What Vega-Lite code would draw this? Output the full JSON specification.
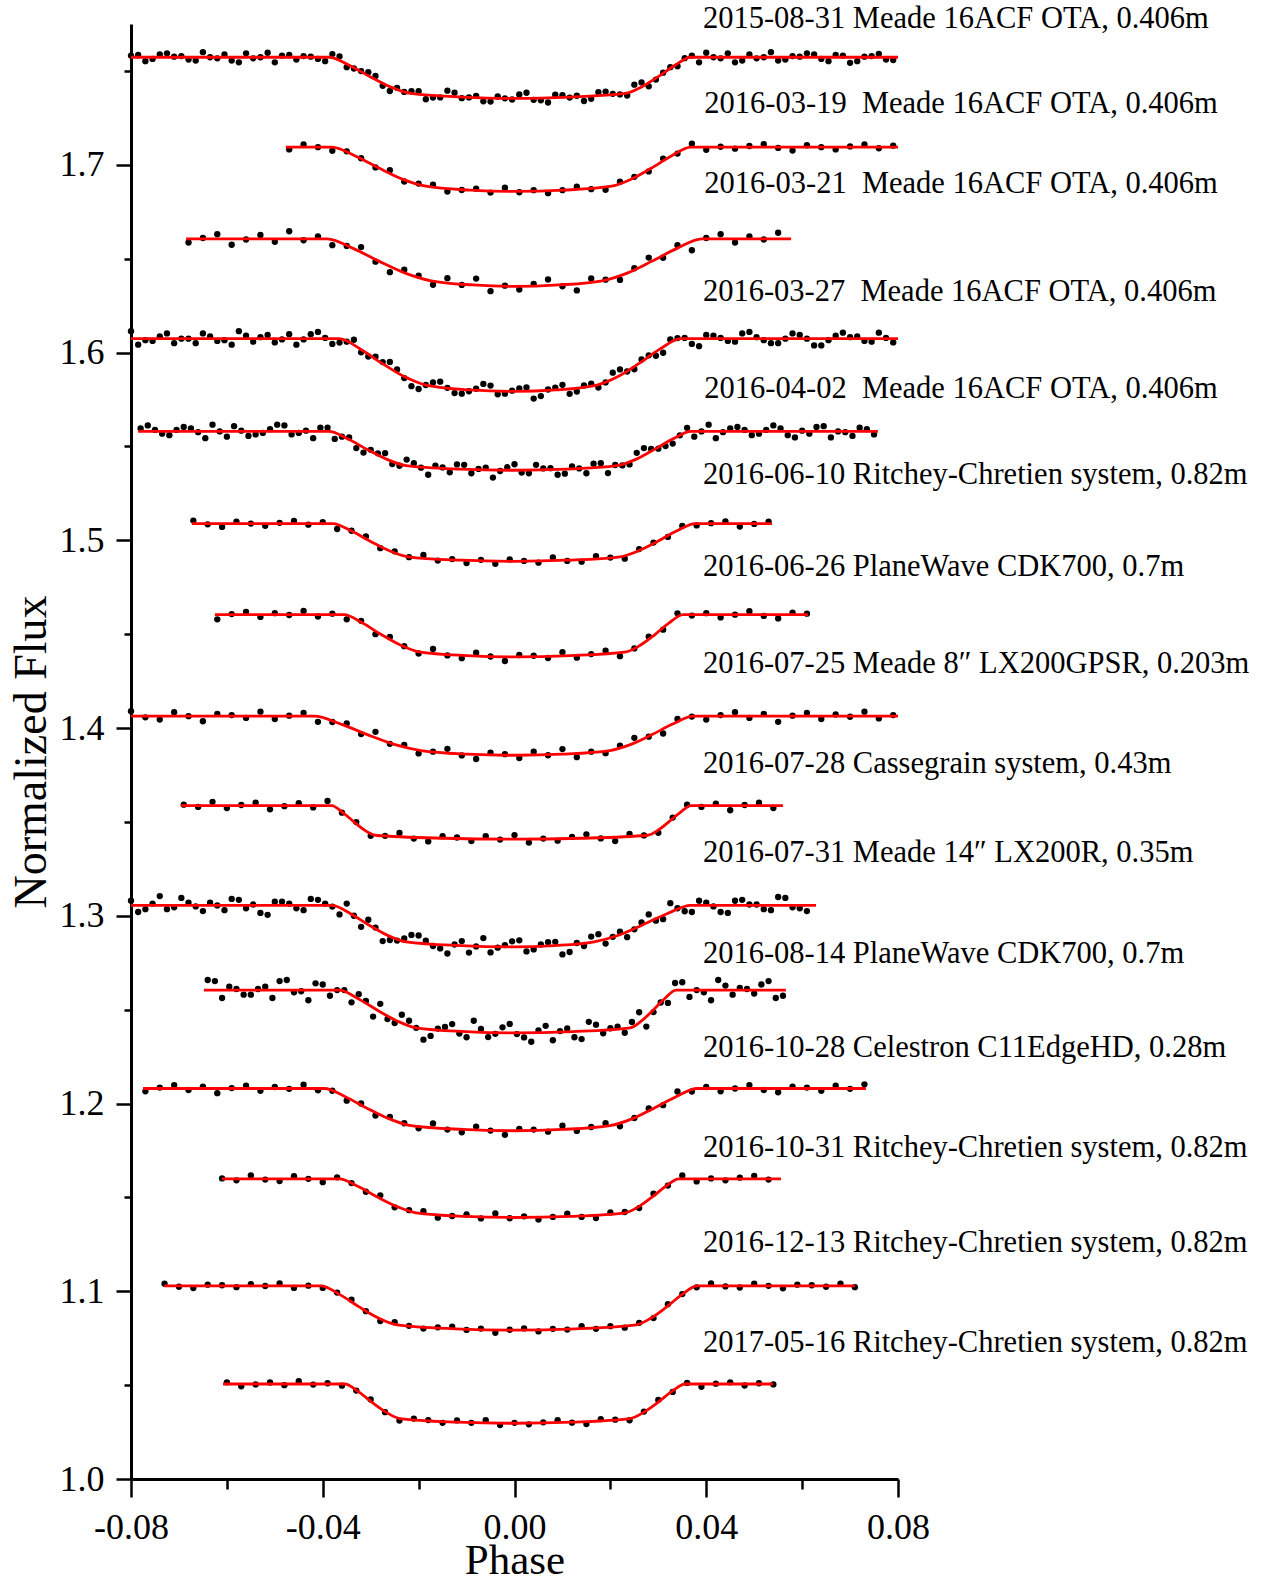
{
"$schema":"https://vega.github.io/schema/vega-lite/v6.json",
"width":767,"height":1455,
"autosize":"none",
"padding":{"left":131,"top":24,"right":368,"bottom":103},
"background":"white",
"config":{"view":{"stroke":null},
"axis":{"domainColor":"black","domainWidth":3,"tickColor":"black","tickWidth":2.5,"labelColor":"black","labelFont":"Liberation Serif","labelFontSize":36,"titleFont":"Liberation Serif","titleFontWeight":"normal","titleColor":"black","grid":false,"labelOverlap":false,"labelBound":false,"labelFlush":false}},
"datasets":{
"dots":[
{"c":1,"x":-0.080,"y":1.7582},{"c":1,"x":-0.077,"y":1.7552},{"c":1,"x":-0.074,"y":1.7588},{"c":1,"x":-0.071,"y":1.7576},{"c":1,"x":-0.068,"y":1.7561},{"c":1,"x":-0.065,"y":1.7600},{"c":1,"x":-0.062,"y":1.7567},{"c":1,"x":-0.059,"y":1.7555},{"c":1,"x":-0.056,"y":1.7594},{"c":1,"x":-0.053,"y":1.7573},{"c":1,"x":-0.050,"y":1.7546},{"c":1,"x":-0.047,"y":1.7585},{"c":1,"x":-0.044,"y":1.7579},{"c":1,"x":-0.041,"y":1.7564},{"c":1,"x":-0.038,"y":1.7590},{"c":1,"x":-0.035,"y":1.7520},{"c":1,"x":-0.032,"y":1.7499},{"c":1,"x":-0.029,"y":1.7473},{"c":1,"x":-0.026,"y":1.7393},{"c":1,"x":-0.023,"y":1.7388},{"c":1,"x":-0.020,"y":1.7392},{"c":1,"x":-0.017,"y":1.7358},{"c":1,"x":-0.014,"y":1.7395},{"c":1,"x":-0.011,"y":1.7355},{"c":1,"x":-0.008,"y":1.7367},{"c":1,"x":-0.005,"y":1.7337},{"c":1,"x":-0.002,"y":1.7354},{"c":1,"x":0.001,"y":1.7375},{"c":1,"x":0.004,"y":1.7346},{"c":1,"x":0.007,"y":1.7332},{"c":1,"x":0.010,"y":1.7371},{"c":1,"x":0.013,"y":1.7368},{"c":1,"x":0.016,"y":1.7352},{"c":1,"x":0.019,"y":1.7390},{"c":1,"x":0.022,"y":1.7375},{"c":1,"x":0.025,"y":1.7427},{"c":1,"x":0.028,"y":1.7418},{"c":1,"x":0.031,"y":1.7491},{"c":1,"x":0.034,"y":1.7525},{"c":1,"x":0.037,"y":1.7582},{"c":1,"x":0.040,"y":1.7597},{"c":1,"x":0.043,"y":1.7567},{"c":1,"x":0.046,"y":1.7546},{"c":1,"x":0.049,"y":1.7588},{"c":1,"x":0.052,"y":1.7573},{"c":1,"x":0.055,"y":1.7555},{"c":1,"x":0.058,"y":1.7579},{"c":1,"x":0.061,"y":1.7594},{"c":1,"x":0.064,"y":1.7564},{"c":1,"x":0.067,"y":1.7585},{"c":1,"x":0.070,"y":1.7543},{"c":1,"x":0.073,"y":1.7576},{"c":1,"x":0.076,"y":1.7591},{"c":1,"x":0.079,"y":1.7558},
{"c":1,"x":-0.0785,"y":1.7585},{"c":1,"x":-0.0755,"y":1.7564},{"c":1,"x":-0.0725,"y":1.7594},{"c":1,"x":-0.0695,"y":1.7579},{"c":1,"x":-0.0665,"y":1.7555},{"c":1,"x":-0.0635,"y":1.7573},{"c":1,"x":-0.0605,"y":1.7588},{"c":1,"x":-0.0575,"y":1.7546},{"c":1,"x":-0.0545,"y":1.7567},{"c":1,"x":-0.0515,"y":1.7597},{"c":1,"x":-0.0485,"y":1.7582},{"c":1,"x":-0.0455,"y":1.7561},{"c":1,"x":-0.0425,"y":1.7576},{"c":1,"x":-0.0395,"y":1.7552},{"c":1,"x":-0.0365,"y":1.7577},{"c":1,"x":-0.0335,"y":1.7513},{"c":1,"x":-0.0305,"y":1.7493},{"c":1,"x":-0.0275,"y":1.7421},{"c":1,"x":-0.0245,"y":1.7410},{"c":1,"x":-0.0215,"y":1.7392},{"c":1,"x":-0.0185,"y":1.7349},{"c":1,"x":-0.0155,"y":1.7359},{"c":1,"x":-0.0125,"y":1.7384},{"c":1,"x":-0.0095,"y":1.7359},{"c":1,"x":-0.0065,"y":1.7338},{"c":1,"x":-0.0035,"y":1.7364},{"c":1,"x":-0.0005,"y":1.7348},{"c":1,"x":0.0025,"y":1.7384},{"c":1,"x":0.0055,"y":1.7344},{"c":1,"x":0.0085,"y":1.7373},{"c":1,"x":0.0115,"y":1.7358},{"c":1,"x":0.0145,"y":1.7340},{"c":1,"x":0.0175,"y":1.7387},{"c":1,"x":0.0205,"y":1.7378},{"c":1,"x":0.0235,"y":1.7369},{"c":1,"x":0.0265,"y":1.7439},{"c":1,"x":0.0295,"y":1.7454},{"c":1,"x":0.0325,"y":1.7520},{"c":1,"x":0.0355,"y":1.7568},{"c":1,"x":0.0385,"y":1.7546},{"c":1,"x":0.0415,"y":1.7573},{"c":1,"x":0.0445,"y":1.7594},{"c":1,"x":0.0475,"y":1.7555},{"c":1,"x":0.0505,"y":1.7567},{"c":1,"x":0.0535,"y":1.7600},{"c":1,"x":0.0565,"y":1.7561},{"c":1,"x":0.0595,"y":1.7576},{"c":1,"x":0.0625,"y":1.7588},{"c":1,"x":0.0655,"y":1.7552},{"c":1,"x":0.0685,"y":1.7582},{"c":1,"x":0.0715,"y":1.7552},{"c":1,"x":0.0745,"y":1.7579},{"c":1,"x":0.0775,"y":1.7561},
{"c":2,"x":-0.047,"y":1.7082},{"c":2,"x":-0.044,"y":1.7108},{"c":2,"x":-0.041,"y":1.7094},{"c":2,"x":-0.038,"y":1.7075},{"c":2,"x":-0.035,"y":1.7072},{"c":2,"x":-0.032,"y":1.7035},{"c":2,"x":-0.029,"y":1.6986},{"c":2,"x":-0.026,"y":1.6971},{"c":2,"x":-0.023,"y":1.6911},{"c":2,"x":-0.020,"y":1.6900},{"c":2,"x":-0.017,"y":1.6894},{"c":2,"x":-0.014,"y":1.6858},{"c":2,"x":-0.011,"y":1.6866},{"c":2,"x":-0.008,"y":1.6873},{"c":2,"x":-0.005,"y":1.6852},{"c":2,"x":-0.002,"y":1.6878},{"c":2,"x":0.001,"y":1.6854},{"c":2,"x":0.004,"y":1.6865},{"c":2,"x":0.007,"y":1.6849},{"c":2,"x":0.010,"y":1.6865},{"c":2,"x":0.013,"y":1.6884},{"c":2,"x":0.016,"y":1.6870},{"c":2,"x":0.019,"y":1.6867},{"c":2,"x":0.022,"y":1.6910},{"c":2,"x":0.025,"y":1.6936},{"c":2,"x":0.028,"y":1.6965},{"c":2,"x":0.031,"y":1.7033},{"c":2,"x":0.034,"y":1.7060},{"c":2,"x":0.037,"y":1.7112},{"c":2,"x":0.040,"y":1.7080},{"c":2,"x":0.043,"y":1.7096},{"c":2,"x":0.046,"y":1.7086},{"c":2,"x":0.049,"y":1.7100},{"c":2,"x":0.052,"y":1.7110},{"c":2,"x":0.055,"y":1.7090},{"c":2,"x":0.058,"y":1.7076},{"c":2,"x":0.061,"y":1.7104},{"c":2,"x":0.064,"y":1.7094},{"c":2,"x":0.067,"y":1.7082},{"c":2,"x":0.070,"y":1.7098},{"c":2,"x":0.073,"y":1.7108},{"c":2,"x":0.076,"y":1.7088},{"c":2,"x":0.079,"y":1.7102},
{"c":3,"x":-0.068,"y":1.6586},{"c":3,"x":-0.065,"y":1.6610},{"c":3,"x":-0.062,"y":1.6630},{"c":3,"x":-0.059,"y":1.6574},{"c":3,"x":-0.056,"y":1.6602},{"c":3,"x":-0.053,"y":1.6626},{"c":3,"x":-0.050,"y":1.6590},{"c":3,"x":-0.047,"y":1.6646},{"c":3,"x":-0.044,"y":1.6598},{"c":3,"x":-0.041,"y":1.6618},{"c":3,"x":-0.038,"y":1.6572},{"c":3,"x":-0.035,"y":1.6568},{"c":3,"x":-0.032,"y":1.6562},{"c":3,"x":-0.029,"y":1.6484},{"c":3,"x":-0.026,"y":1.6428},{"c":3,"x":-0.023,"y":1.6441},{"c":3,"x":-0.020,"y":1.6410},{"c":3,"x":-0.017,"y":1.6361},{"c":3,"x":-0.014,"y":1.6396},{"c":3,"x":-0.011,"y":1.6360},{"c":3,"x":-0.008,"y":1.6394},{"c":3,"x":-0.005,"y":1.6327},{"c":3,"x":-0.002,"y":1.6356},{"c":3,"x":0.001,"y":1.6336},{"c":3,"x":0.004,"y":1.6366},{"c":3,"x":0.007,"y":1.6389},{"c":3,"x":0.010,"y":1.6353},{"c":3,"x":0.013,"y":1.6331},{"c":3,"x":0.016,"y":1.6395},{"c":3,"x":0.019,"y":1.6388},{"c":3,"x":0.022,"y":1.6387},{"c":3,"x":0.025,"y":1.6449},{"c":3,"x":0.028,"y":1.6506},{"c":3,"x":0.031,"y":1.6505},{"c":3,"x":0.034,"y":1.6572},{"c":3,"x":0.037,"y":1.6545},{"c":3,"x":0.040,"y":1.6610},{"c":3,"x":0.043,"y":1.6630},{"c":3,"x":0.046,"y":1.6586},{"c":3,"x":0.049,"y":1.6618},{"c":3,"x":0.052,"y":1.6602},{"c":3,"x":0.055,"y":1.6638},
{"c":4,"x":-0.080,"y":1.6114},{"c":4,"x":-0.077,"y":1.6066},{"c":4,"x":-0.074,"y":1.6086},{"c":4,"x":-0.071,"y":1.6050},{"c":4,"x":-0.068,"y":1.6074},{"c":4,"x":-0.065,"y":1.6102},{"c":4,"x":-0.062,"y":1.6062},{"c":4,"x":-0.059,"y":1.6042},{"c":4,"x":-0.056,"y":1.6090},{"c":4,"x":-0.053,"y":1.6082},{"c":4,"x":-0.050,"y":1.6054},{"c":4,"x":-0.047,"y":1.6098},{"c":4,"x":-0.044,"y":1.6070},{"c":4,"x":-0.041,"y":1.6110},{"c":4,"x":-0.038,"y":1.6046},{"c":4,"x":-0.035,"y":1.6058},{"c":4,"x":-0.032,"y":1.6001},{"c":4,"x":-0.029,"y":1.5978},{"c":4,"x":-0.026,"y":1.5950},{"c":4,"x":-0.023,"y":1.5864},{"c":4,"x":-0.020,"y":1.5806},{"c":4,"x":-0.017,"y":1.5841},{"c":4,"x":-0.014,"y":1.5812},{"c":4,"x":-0.011,"y":1.5781},{"c":4,"x":-0.008,"y":1.5807},{"c":4,"x":-0.005,"y":1.5824},{"c":4,"x":-0.002,"y":1.5781},{"c":4,"x":0.001,"y":1.5809},{"c":4,"x":0.004,"y":1.5755},{"c":4,"x":0.007,"y":1.5803},{"c":4,"x":0.010,"y":1.5828},{"c":4,"x":0.013,"y":1.5792},{"c":4,"x":0.016,"y":1.5834},{"c":4,"x":0.019,"y":1.5841},{"c":4,"x":0.022,"y":1.5910},{"c":4,"x":0.025,"y":1.5911},{"c":4,"x":0.028,"y":1.5985},{"c":4,"x":0.031,"y":1.5999},{"c":4,"x":0.034,"y":1.6077},{"c":4,"x":0.037,"y":1.6046},{"c":4,"x":0.040,"y":1.6094},{"c":4,"x":0.043,"y":1.6078},{"c":4,"x":0.046,"y":1.6058},{"c":4,"x":0.049,"y":1.6110},{"c":4,"x":0.052,"y":1.6066},{"c":4,"x":0.055,"y":1.6050},{"c":4,"x":0.058,"y":1.6102},{"c":4,"x":0.061,"y":1.6074},{"c":4,"x":0.064,"y":1.6038},{"c":4,"x":0.067,"y":1.6090},{"c":4,"x":0.070,"y":1.6082},{"c":4,"x":0.073,"y":1.6062},{"c":4,"x":0.076,"y":1.6106},{"c":4,"x":0.079,"y":1.6054},
{"c":4,"x":-0.0785,"y":1.6042},{"c":4,"x":-0.0755,"y":1.6062},{"c":4,"x":-0.0725,"y":1.6102},{"c":4,"x":-0.0695,"y":1.6074},{"c":4,"x":-0.0665,"y":1.6050},{"c":4,"x":-0.0635,"y":1.6086},{"c":4,"x":-0.0605,"y":1.6066},{"c":4,"x":-0.0575,"y":1.6114},{"c":4,"x":-0.0545,"y":1.6058},{"c":4,"x":-0.0515,"y":1.6094},{"c":4,"x":-0.0485,"y":1.6070},{"c":4,"x":-0.0455,"y":1.6042},{"c":4,"x":-0.0425,"y":1.6098},{"c":4,"x":-0.0395,"y":1.6078},{"c":4,"x":-0.0365,"y":1.6053},{"c":4,"x":-0.0335,"y":1.6068},{"c":4,"x":-0.0305,"y":1.5979},{"c":4,"x":-0.0275,"y":1.5949},{"c":4,"x":-0.0245,"y":1.5910},{"c":4,"x":-0.0215,"y":1.5821},{"c":4,"x":-0.0185,"y":1.5827},{"c":4,"x":-0.0155,"y":1.5845},{"c":4,"x":-0.0125,"y":1.5784},{"c":4,"x":-0.0095,"y":1.5794},{"c":4,"x":-0.0065,"y":1.5833},{"c":4,"x":-0.0035,"y":1.5778},{"c":4,"x":-0.0005,"y":1.5797},{"c":4,"x":0.0025,"y":1.5814},{"c":4,"x":0.0055,"y":1.5768},{"c":4,"x":0.0085,"y":1.5813},{"c":4,"x":0.0115,"y":1.5780},{"c":4,"x":0.0145,"y":1.5825},{"c":4,"x":0.0175,"y":1.5814},{"c":4,"x":0.0205,"y":1.5893},{"c":4,"x":0.0235,"y":1.5899},{"c":4,"x":0.0265,"y":1.5963},{"c":4,"x":0.0295,"y":1.5983},{"c":4,"x":0.0325,"y":1.6070},{"c":4,"x":0.0355,"y":1.6078},{"c":4,"x":0.0385,"y":1.6034},{"c":4,"x":0.0415,"y":1.6090},{"c":4,"x":0.0445,"y":1.6062},{"c":4,"x":0.0475,"y":1.6102},{"c":4,"x":0.0505,"y":1.6082},{"c":4,"x":0.0535,"y":1.6050},{"c":4,"x":0.0565,"y":1.6074},{"c":4,"x":0.0595,"y":1.6094},{"c":4,"x":0.0625,"y":1.6038},{"c":4,"x":0.0655,"y":1.6066},{"c":4,"x":0.0685,"y":1.6106},{"c":4,"x":0.0715,"y":1.6086},{"c":4,"x":0.0745,"y":1.6058},{"c":4,"x":0.0775,"y":1.6078},
{"c":5,"x":-0.078,"y":1.5596},{"c":5,"x":-0.075,"y":1.5588},{"c":5,"x":-0.072,"y":1.5560},{"c":5,"x":-0.069,"y":1.5604},{"c":5,"x":-0.066,"y":1.5576},{"c":5,"x":-0.063,"y":1.5616},{"c":5,"x":-0.060,"y":1.5552},{"c":5,"x":-0.057,"y":1.5584},{"c":5,"x":-0.054,"y":1.5564},{"c":5,"x":-0.051,"y":1.5592},{"c":5,"x":-0.048,"y":1.5612},{"c":5,"x":-0.045,"y":1.5572},{"c":5,"x":-0.042,"y":1.5544},{"c":5,"x":-0.039,"y":1.5600},{"c":5,"x":-0.036,"y":1.5552},{"c":5,"x":-0.033,"y":1.5491},{"c":5,"x":-0.030,"y":1.5482},{"c":5,"x":-0.027,"y":1.5464},{"c":5,"x":-0.024,"y":1.5397},{"c":5,"x":-0.021,"y":1.5411},{"c":5,"x":-0.018,"y":1.5349},{"c":5,"x":-0.015,"y":1.5388},{"c":5,"x":-0.012,"y":1.5404},{"c":5,"x":-0.009,"y":1.5357},{"c":5,"x":-0.006,"y":1.5387},{"c":5,"x":-0.003,"y":1.5369},{"c":5,"x":0.000,"y":1.5405},{"c":5,"x":0.003,"y":1.5357},{"c":5,"x":0.006,"y":1.5383},{"c":5,"x":0.009,"y":1.5349},{"c":5,"x":0.012,"y":1.5393},{"c":5,"x":0.015,"y":1.5357},{"c":5,"x":0.018,"y":1.5411},{"c":5,"x":0.021,"y":1.5401},{"c":5,"x":0.024,"y":1.5404},{"c":5,"x":0.027,"y":1.5491},{"c":5,"x":0.030,"y":1.5488},{"c":5,"x":0.033,"y":1.5515},{"c":5,"x":0.036,"y":1.5599},{"c":5,"x":0.039,"y":1.5580},{"c":5,"x":0.042,"y":1.5544},{"c":5,"x":0.045,"y":1.5596},{"c":5,"x":0.048,"y":1.5588},{"c":5,"x":0.051,"y":1.5568},{"c":5,"x":0.054,"y":1.5612},{"c":5,"x":0.057,"y":1.5560},{"c":5,"x":0.060,"y":1.5584},{"c":5,"x":0.063,"y":1.5604},{"c":5,"x":0.066,"y":1.5548},{"c":5,"x":0.069,"y":1.5576},{"c":5,"x":0.072,"y":1.5600},{"c":5,"x":0.075,"y":1.5564},
{"c":5,"x":-0.0765,"y":1.5612},{"c":5,"x":-0.0735,"y":1.5568},{"c":5,"x":-0.0705,"y":1.5588},{"c":5,"x":-0.0675,"y":1.5596},{"c":5,"x":-0.0645,"y":1.5544},{"c":5,"x":-0.0615,"y":1.5580},{"c":5,"x":-0.0585,"y":1.5608},{"c":5,"x":-0.0555,"y":1.5556},{"c":5,"x":-0.0525,"y":1.5572},{"c":5,"x":-0.0495,"y":1.5616},{"c":5,"x":-0.0465,"y":1.5564},{"c":5,"x":-0.0435,"y":1.5584},{"c":5,"x":-0.0405,"y":1.5600},{"c":5,"x":-0.0375,"y":1.5540},{"c":5,"x":-0.0345,"y":1.5548},{"c":5,"x":-0.0315,"y":1.5467},{"c":5,"x":-0.0285,"y":1.5463},{"c":5,"x":-0.0255,"y":1.5406},{"c":5,"x":-0.0225,"y":1.5430},{"c":5,"x":-0.0195,"y":1.5387},{"c":5,"x":-0.0165,"y":1.5398},{"c":5,"x":-0.0135,"y":1.5362},{"c":5,"x":-0.0105,"y":1.5402},{"c":5,"x":-0.0075,"y":1.5380},{"c":5,"x":-0.0045,"y":1.5334},{"c":5,"x":-0.0015,"y":1.5389},{"c":5,"x":0.0015,"y":1.5361},{"c":5,"x":0.0045,"y":1.5402},{"c":5,"x":0.0075,"y":1.5384},{"c":5,"x":0.0105,"y":1.5355},{"c":5,"x":0.0135,"y":1.5383},{"c":5,"x":0.0165,"y":1.5408},{"c":5,"x":0.0195,"y":1.5358},{"c":5,"x":0.0225,"y":1.5399},{"c":5,"x":0.0255,"y":1.5466},{"c":5,"x":0.0285,"y":1.5487},{"c":5,"x":0.0315,"y":1.5502},{"c":5,"x":0.0345,"y":1.5559},{"c":5,"x":0.0375,"y":1.5552},{"c":5,"x":0.0405,"y":1.5616},{"c":5,"x":0.0435,"y":1.5576},{"c":5,"x":0.0465,"y":1.5604},{"c":5,"x":0.0495,"y":1.5560},{"c":5,"x":0.0525,"y":1.5588},{"c":5,"x":0.0555,"y":1.5596},{"c":5,"x":0.0585,"y":1.5548},{"c":5,"x":0.0615,"y":1.5568},{"c":5,"x":0.0645,"y":1.5608},{"c":5,"x":0.0675,"y":1.5580},{"c":5,"x":0.0705,"y":1.5556},{"c":5,"x":0.0735,"y":1.5592},
{"c":6,"x":-0.067,"y":1.5105},{"c":6,"x":-0.064,"y":1.5085},{"c":6,"x":-0.061,"y":1.5071},{"c":6,"x":-0.058,"y":1.5099},{"c":6,"x":-0.055,"y":1.5089},{"c":6,"x":-0.052,"y":1.5077},{"c":6,"x":-0.049,"y":1.5093},{"c":6,"x":-0.046,"y":1.5103},{"c":6,"x":-0.043,"y":1.5083},{"c":6,"x":-0.040,"y":1.5097},{"c":6,"x":-0.037,"y":1.5060},{"c":6,"x":-0.034,"y":1.5051},{"c":6,"x":-0.031,"y":1.5020},{"c":6,"x":-0.028,"y":1.4958},{"c":6,"x":-0.025,"y":1.4941},{"c":6,"x":-0.022,"y":1.4910},{"c":6,"x":-0.019,"y":1.4922},{"c":6,"x":-0.016,"y":1.4892},{"c":6,"x":-0.013,"y":1.4900},{"c":6,"x":-0.010,"y":1.4879},{"c":6,"x":-0.007,"y":1.4896},{"c":6,"x":-0.004,"y":1.4875},{"c":6,"x":-0.001,"y":1.4898},{"c":6,"x":0.002,"y":1.4890},{"c":6,"x":0.005,"y":1.4881},{"c":6,"x":0.008,"y":1.4909},{"c":6,"x":0.011,"y":1.4890},{"c":6,"x":0.014,"y":1.4886},{"c":6,"x":0.017,"y":1.4916},{"c":6,"x":0.020,"y":1.4908},{"c":6,"x":0.023,"y":1.4902},{"c":6,"x":0.026,"y":1.4953},{"c":6,"x":0.029,"y":1.4988},{"c":6,"x":0.032,"y":1.5018},{"c":6,"x":0.035,"y":1.5077},{"c":6,"x":0.038,"y":1.5079},{"c":6,"x":0.041,"y":1.5091},{"c":6,"x":0.044,"y":1.5101},{"c":6,"x":0.047,"y":1.5073},{"c":6,"x":0.050,"y":1.5087},{"c":6,"x":0.053,"y":1.5099},
{"c":7,"x":-0.062,"y":1.4579},{"c":7,"x":-0.059,"y":1.4607},{"c":7,"x":-0.056,"y":1.4619},{"c":7,"x":-0.053,"y":1.4592},{"c":7,"x":-0.050,"y":1.4612},{"c":7,"x":-0.047,"y":1.4602},{"c":7,"x":-0.044,"y":1.4624},{"c":7,"x":-0.041,"y":1.4594},{"c":7,"x":-0.038,"y":1.4609},{"c":7,"x":-0.035,"y":1.4579},{"c":7,"x":-0.032,"y":1.4571},{"c":7,"x":-0.029,"y":1.4500},{"c":7,"x":-0.026,"y":1.4485},{"c":7,"x":-0.023,"y":1.4436},{"c":7,"x":-0.020,"y":1.4397},{"c":7,"x":-0.017,"y":1.4421},{"c":7,"x":-0.014,"y":1.4387},{"c":7,"x":-0.011,"y":1.4372},{"c":7,"x":-0.008,"y":1.4401},{"c":7,"x":-0.005,"y":1.4381},{"c":7,"x":-0.002,"y":1.4357},{"c":7,"x":0.001,"y":1.4389},{"c":7,"x":0.004,"y":1.4385},{"c":7,"x":0.007,"y":1.4373},{"c":7,"x":0.010,"y":1.4404},{"c":7,"x":0.013,"y":1.4375},{"c":7,"x":0.016,"y":1.4394},{"c":7,"x":0.019,"y":1.4412},{"c":7,"x":0.022,"y":1.4383},{"c":7,"x":0.025,"y":1.4424},{"c":7,"x":0.028,"y":1.4487},{"c":7,"x":0.031,"y":1.4524},{"c":7,"x":0.034,"y":1.4611},{"c":7,"x":0.037,"y":1.4599},{"c":7,"x":0.040,"y":1.4612},{"c":7,"x":0.043,"y":1.4589},{"c":7,"x":0.046,"y":1.4604},{"c":7,"x":0.049,"y":1.4622},{"c":7,"x":0.052,"y":1.4597},{"c":7,"x":0.055,"y":1.4584},{"c":7,"x":0.058,"y":1.4614},{"c":7,"x":0.061,"y":1.4609},
{"c":8,"x":-0.080,"y":1.4090},{"c":8,"x":-0.077,"y":1.4057},{"c":8,"x":-0.074,"y":1.4045},{"c":8,"x":-0.071,"y":1.4084},{"c":8,"x":-0.068,"y":1.4063},{"c":8,"x":-0.065,"y":1.4036},{"c":8,"x":-0.062,"y":1.4075},{"c":8,"x":-0.059,"y":1.4069},{"c":8,"x":-0.056,"y":1.4054},{"c":8,"x":-0.053,"y":1.4087},{"c":8,"x":-0.050,"y":1.4048},{"c":8,"x":-0.047,"y":1.4066},{"c":8,"x":-0.044,"y":1.4081},{"c":8,"x":-0.041,"y":1.4033},{"c":8,"x":-0.038,"y":1.4032},{"c":8,"x":-0.035,"y":1.4024},{"c":8,"x":-0.032,"y":1.3968},{"c":8,"x":-0.029,"y":1.3980},{"c":8,"x":-0.026,"y":1.3916},{"c":8,"x":-0.023,"y":1.3910},{"c":8,"x":-0.020,"y":1.3865},{"c":8,"x":-0.017,"y":1.3874},{"c":8,"x":-0.014,"y":1.3889},{"c":8,"x":-0.011,"y":1.3854},{"c":8,"x":-0.008,"y":1.3835},{"c":8,"x":-0.005,"y":1.3869},{"c":8,"x":-0.002,"y":1.3861},{"c":8,"x":0.001,"y":1.3840},{"c":8,"x":0.004,"y":1.3874},{"c":8,"x":0.007,"y":1.3855},{"c":8,"x":0.010,"y":1.3888},{"c":8,"x":0.013,"y":1.3845},{"c":8,"x":0.016,"y":1.3874},{"c":8,"x":0.019,"y":1.3866},{"c":8,"x":0.022,"y":1.3906},{"c":8,"x":0.025,"y":1.3948},{"c":8,"x":0.028,"y":1.3954},{"c":8,"x":0.031,"y":1.3971},{"c":8,"x":0.034,"y":1.4048},{"c":8,"x":0.037,"y":1.4061},{"c":8,"x":0.040,"y":1.4045},{"c":8,"x":0.043,"y":1.4069},{"c":8,"x":0.046,"y":1.4084},{"c":8,"x":0.049,"y":1.4054},{"c":8,"x":0.052,"y":1.4075},{"c":8,"x":0.055,"y":1.4033},{"c":8,"x":0.058,"y":1.4066},{"c":8,"x":0.061,"y":1.4081},{"c":8,"x":0.064,"y":1.4048},{"c":8,"x":0.067,"y":1.4072},{"c":8,"x":0.070,"y":1.4060},{"c":8,"x":0.073,"y":1.4087},{"c":8,"x":0.076,"y":1.4051},{"c":8,"x":0.079,"y":1.4069},
{"c":9,"x":-0.069,"y":1.3592},{"c":9,"x":-0.066,"y":1.3580},{"c":9,"x":-0.063,"y":1.3607},{"c":9,"x":-0.060,"y":1.3574},{"c":9,"x":-0.057,"y":1.3590},{"c":9,"x":-0.054,"y":1.3602},{"c":9,"x":-0.051,"y":1.3567},{"c":9,"x":-0.048,"y":1.3584},{"c":9,"x":-0.045,"y":1.3600},{"c":9,"x":-0.042,"y":1.3577},{"c":9,"x":-0.039,"y":1.3612},{"c":9,"x":-0.036,"y":1.3549},{"c":9,"x":-0.033,"y":1.3499},{"c":9,"x":-0.030,"y":1.3426},{"c":9,"x":-0.027,"y":1.3426},{"c":9,"x":-0.024,"y":1.3441},{"c":9,"x":-0.021,"y":1.3411},{"c":9,"x":-0.018,"y":1.3396},{"c":9,"x":-0.015,"y":1.3424},{"c":9,"x":-0.012,"y":1.3417},{"c":9,"x":-0.009,"y":1.3398},{"c":9,"x":-0.006,"y":1.3424},{"c":9,"x":-0.003,"y":1.3406},{"c":9,"x":0.000,"y":1.3430},{"c":9,"x":0.003,"y":1.3390},{"c":9,"x":0.006,"y":1.3411},{"c":9,"x":0.009,"y":1.3400},{"c":9,"x":0.012,"y":1.3420},{"c":9,"x":0.015,"y":1.3434},{"c":9,"x":0.018,"y":1.3412},{"c":9,"x":0.021,"y":1.3398},{"c":9,"x":0.024,"y":1.3436},{"c":9,"x":0.027,"y":1.3428},{"c":9,"x":0.030,"y":1.3442},{"c":9,"x":0.033,"y":1.3523},{"c":9,"x":0.036,"y":1.3592},{"c":9,"x":0.039,"y":1.3580},{"c":9,"x":0.042,"y":1.3597},{"c":9,"x":0.045,"y":1.3562},{"c":9,"x":0.048,"y":1.3590},{"c":9,"x":0.051,"y":1.3602},{"c":9,"x":0.054,"y":1.3574},
{"c":10,"x":-0.080,"y":1.3080},{"c":10,"x":-0.077,"y":1.3035},{"c":10,"x":-0.074,"y":1.3105},{"c":10,"x":-0.071,"y":1.3045},{"c":10,"x":-0.068,"y":1.3070},{"c":10,"x":-0.065,"y":1.3025},{"c":10,"x":-0.062,"y":1.3055},{"c":10,"x":-0.059,"y":1.3090},{"c":10,"x":-0.056,"y":1.3040},{"c":10,"x":-0.053,"y":1.3015},{"c":10,"x":-0.050,"y":1.3075},{"c":10,"x":-0.047,"y":1.3065},{"c":10,"x":-0.044,"y":1.3030},{"c":10,"x":-0.041,"y":1.3085},{"c":10,"x":-0.038,"y":1.3049},{"c":10,"x":-0.035,"y":1.3065},{"c":10,"x":-0.032,"y":1.2941},{"c":10,"x":-0.029,"y":1.2937},{"c":10,"x":-0.026,"y":1.2871},{"c":10,"x":-0.023,"y":1.2879},{"c":10,"x":-0.020,"y":1.2895},{"c":10,"x":-0.017,"y":1.2839},{"c":10,"x":-0.014,"y":1.2799},{"c":10,"x":-0.011,"y":1.2865},{"c":10,"x":-0.008,"y":1.2837},{"c":10,"x":-0.005,"y":1.2805},{"c":10,"x":-0.002,"y":1.2844},{"c":10,"x":0.001,"y":1.2869},{"c":10,"x":0.004,"y":1.2821},{"c":10,"x":0.007,"y":1.2859},{"c":10,"x":0.010,"y":1.2794},{"c":10,"x":0.013,"y":1.2855},{"c":10,"x":0.016,"y":1.2889},{"c":10,"x":0.019,"y":1.2852},{"c":10,"x":0.022,"y":1.2915},{"c":10,"x":0.025,"y":1.2928},{"c":10,"x":0.028,"y":1.3007},{"c":10,"x":0.031,"y":1.2982},{"c":10,"x":0.034,"y":1.3040},{"c":10,"x":0.037,"y":1.3020},{"c":10,"x":0.040,"y":1.3070},{"c":10,"x":0.043,"y":1.3020},{"c":10,"x":0.046,"y":1.3080},{"c":10,"x":0.049,"y":1.3060},{"c":10,"x":0.052,"y":1.3035},{"c":10,"x":0.055,"y":1.3100},{"c":10,"x":0.058,"y":1.3045},{"c":10,"x":0.061,"y":1.3025},
{"c":10,"x":-0.0785,"y":1.3020},{"c":10,"x":-0.0755,"y":1.3065},{"c":10,"x":-0.0725,"y":1.3035},{"c":10,"x":-0.0695,"y":1.3095},{"c":10,"x":-0.0665,"y":1.3050},{"c":10,"x":-0.0635,"y":1.3070},{"c":10,"x":-0.0605,"y":1.3030},{"c":10,"x":-0.0575,"y":1.3085},{"c":10,"x":-0.0545,"y":1.3060},{"c":10,"x":-0.0515,"y":1.3005},{"c":10,"x":-0.0485,"y":1.3075},{"c":10,"x":-0.0455,"y":1.3040},{"c":10,"x":-0.0425,"y":1.3090},{"c":10,"x":-0.0395,"y":1.3065},{"c":10,"x":-0.0365,"y":1.3007},{"c":10,"x":-0.0335,"y":1.3000},{"c":10,"x":-0.0305,"y":1.2979},{"c":10,"x":-0.0275,"y":1.2865},{"c":10,"x":-0.0245,"y":1.2868},{"c":10,"x":-0.0215,"y":1.2898},{"c":10,"x":-0.0185,"y":1.2867},{"c":10,"x":-0.0155,"y":1.2826},{"c":10,"x":-0.0125,"y":1.2847},{"c":10,"x":-0.0095,"y":1.2804},{"c":10,"x":-0.0065,"y":1.2881},{"c":10,"x":-0.0035,"y":1.2830},{"c":10,"x":-0.0005,"y":1.2864},{"c":10,"x":0.0025,"y":1.2810},{"c":10,"x":0.0055,"y":1.2847},{"c":10,"x":0.0085,"y":1.2861},{"c":10,"x":0.0115,"y":1.2807},{"c":10,"x":0.0145,"y":1.2839},{"c":10,"x":0.0175,"y":1.2902},{"c":10,"x":0.0205,"y":1.2888},{"c":10,"x":0.0235,"y":1.2886},{"c":10,"x":0.0265,"y":1.2964},{"c":10,"x":0.0295,"y":1.2974},{"c":10,"x":0.0325,"y":1.3067},{"c":10,"x":0.0355,"y":1.3024},{"c":10,"x":0.0385,"y":1.3080},{"c":10,"x":0.0415,"y":1.3050},{"c":10,"x":0.0445,"y":1.3015},{"c":10,"x":0.0475,"y":1.3085},{"c":10,"x":0.0505,"y":1.3060},{"c":10,"x":0.0535,"y":1.3030},{"c":10,"x":0.0565,"y":1.3095},{"c":10,"x":0.0595,"y":1.3040},
{"c":11,"x":-0.064,"y":1.2658},{"c":11,"x":-0.061,"y":1.2562},{"c":11,"x":-0.058,"y":1.2610},{"c":11,"x":-0.055,"y":1.2580},{"c":11,"x":-0.052,"y":1.2622},{"c":11,"x":-0.049,"y":1.2652},{"c":11,"x":-0.046,"y":1.2592},{"c":11,"x":-0.043,"y":1.2550},{"c":11,"x":-0.040,"y":1.2634},{"c":11,"x":-0.037,"y":1.2604},{"c":11,"x":-0.034,"y":1.2539},{"c":11,"x":-0.031,"y":1.2546},{"c":11,"x":-0.028,"y":1.2531},{"c":11,"x":-0.025,"y":1.2429},{"c":11,"x":-0.022,"y":1.2441},{"c":11,"x":-0.019,"y":1.2340},{"c":11,"x":-0.016,"y":1.2399},{"c":11,"x":-0.013,"y":1.2423},{"c":11,"x":-0.010,"y":1.2353},{"c":11,"x":-0.007,"y":1.2397},{"c":11,"x":-0.004,"y":1.2371},{"c":11,"x":-0.001,"y":1.2424},{"c":11,"x":0.002,"y":1.2352},{"c":11,"x":0.005,"y":1.2389},{"c":11,"x":0.008,"y":1.2337},{"c":11,"x":0.011,"y":1.2400},{"c":11,"x":0.014,"y":1.2343},{"c":11,"x":0.017,"y":1.2420},{"c":11,"x":0.020,"y":1.2401},{"c":11,"x":0.023,"y":1.2377},{"c":11,"x":0.026,"y":1.2486},{"c":11,"x":0.029,"y":1.2487},{"c":11,"x":0.032,"y":1.2536},{"c":11,"x":0.035,"y":1.2646},{"c":11,"x":0.038,"y":1.2604},{"c":11,"x":0.041,"y":1.2550},{"c":11,"x":0.044,"y":1.2628},{"c":11,"x":0.047,"y":1.2616},{"c":11,"x":0.050,"y":1.2586},{"c":11,"x":0.053,"y":1.2652},{"c":11,"x":0.056,"y":1.2574},
{"c":11,"x":-0.0625,"y":1.2652},{"c":11,"x":-0.0595,"y":1.2622},{"c":11,"x":-0.0565,"y":1.2580},{"c":11,"x":-0.0535,"y":1.2610},{"c":11,"x":-0.0505,"y":1.2562},{"c":11,"x":-0.0475,"y":1.2658},{"c":11,"x":-0.0445,"y":1.2598},{"c":11,"x":-0.0415,"y":1.2640},{"c":11,"x":-0.0385,"y":1.2574},{"c":11,"x":-0.0355,"y":1.2604},{"c":11,"x":-0.0325,"y":1.2582},{"c":11,"x":-0.0295,"y":1.2463},{"c":11,"x":-0.0265,"y":1.2450},{"c":11,"x":-0.0235,"y":1.2473},{"c":11,"x":-0.0205,"y":1.2403},{"c":11,"x":-0.0175,"y":1.2360},{"c":11,"x":-0.0145,"y":1.2408},{"c":11,"x":-0.0115,"y":1.2373},{"c":11,"x":-0.0085,"y":1.2441},{"c":11,"x":-0.0055,"y":1.2354},{"c":11,"x":-0.0025,"y":1.2406},{"c":11,"x":0.0005,"y":1.2370},{"c":11,"x":0.0035,"y":1.2329},{"c":11,"x":0.0065,"y":1.2414},{"c":11,"x":0.0095,"y":1.2386},{"c":11,"x":0.0125,"y":1.2353},{"c":11,"x":0.0155,"y":1.2435},{"c":11,"x":0.0185,"y":1.2374},{"c":11,"x":0.0215,"y":1.2410},{"c":11,"x":0.0245,"y":1.2434},{"c":11,"x":0.0275,"y":1.2410},{"c":11,"x":0.0305,"y":1.2538},{"c":11,"x":0.0335,"y":1.2642},{"c":11,"x":0.0365,"y":1.2568},{"c":11,"x":0.0395,"y":1.2592},{"c":11,"x":0.0425,"y":1.2658},{"c":11,"x":0.0455,"y":1.2580},{"c":11,"x":0.0485,"y":1.2610},{"c":11,"x":0.0515,"y":1.2634},{"c":11,"x":0.0545,"y":1.2562},
{"c":12,"x":-0.077,"y":1.2065},{"c":12,"x":-0.074,"y":1.2085},{"c":12,"x":-0.071,"y":1.2098},{"c":12,"x":-0.068,"y":1.2072},{"c":12,"x":-0.065,"y":1.2090},{"c":12,"x":-0.062,"y":1.2055},{"c":12,"x":-0.059,"y":1.2082},{"c":12,"x":-0.056,"y":1.2095},{"c":12,"x":-0.053,"y":1.2068},{"c":12,"x":-0.050,"y":1.2088},{"c":12,"x":-0.047,"y":1.2078},{"c":12,"x":-0.044,"y":1.2100},{"c":12,"x":-0.041,"y":1.2070},{"c":12,"x":-0.038,"y":1.2068},{"c":12,"x":-0.035,"y":1.2015},{"c":12,"x":-0.032,"y":1.2000},{"c":12,"x":-0.029,"y":1.1936},{"c":12,"x":-0.026,"y":1.1929},{"c":12,"x":-0.023,"y":1.1895},{"c":12,"x":-0.020,"y":1.1868},{"c":12,"x":-0.017,"y":1.1894},{"c":12,"x":-0.014,"y":1.1861},{"c":12,"x":-0.011,"y":1.1847},{"c":12,"x":-0.008,"y":1.1877},{"c":12,"x":-0.005,"y":1.1856},{"c":12,"x":-0.002,"y":1.1833},{"c":12,"x":0.001,"y":1.1865},{"c":12,"x":0.004,"y":1.1861},{"c":12,"x":0.007,"y":1.1850},{"c":12,"x":0.010,"y":1.1882},{"c":12,"x":0.013,"y":1.1854},{"c":12,"x":0.016,"y":1.1875},{"c":12,"x":0.019,"y":1.1895},{"c":12,"x":0.022,"y":1.1879},{"c":12,"x":0.025,"y":1.1923},{"c":12,"x":0.028,"y":1.1974},{"c":12,"x":0.031,"y":1.1991},{"c":12,"x":0.034,"y":1.2064},{"c":12,"x":0.037,"y":1.2064},{"c":12,"x":0.040,"y":1.2088},{"c":12,"x":0.043,"y":1.2065},{"c":12,"x":0.046,"y":1.2080},{"c":12,"x":0.049,"y":1.2098},{"c":12,"x":0.052,"y":1.2072},{"c":12,"x":0.055,"y":1.2060},{"c":12,"x":0.058,"y":1.2090},{"c":12,"x":0.061,"y":1.2085},{"c":12,"x":0.064,"y":1.2068},{"c":12,"x":0.067,"y":1.2095},{"c":12,"x":0.070,"y":1.2078},{"c":12,"x":0.073,"y":1.2102},
{"c":13,"x":-0.061,"y":1.1601},{"c":13,"x":-0.058,"y":1.1591},{"c":13,"x":-0.055,"y":1.1617},{"c":13,"x":-0.052,"y":1.1595},{"c":13,"x":-0.049,"y":1.1587},{"c":13,"x":-0.046,"y":1.1613},{"c":13,"x":-0.043,"y":1.1599},{"c":13,"x":-0.040,"y":1.1581},{"c":13,"x":-0.037,"y":1.1607},{"c":13,"x":-0.034,"y":1.1576},{"c":13,"x":-0.031,"y":1.1530},{"c":13,"x":-0.028,"y":1.1511},{"c":13,"x":-0.025,"y":1.1447},{"c":13,"x":-0.022,"y":1.1432},{"c":13,"x":-0.019,"y":1.1426},{"c":13,"x":-0.016,"y":1.1392},{"c":13,"x":-0.013,"y":1.1401},{"c":13,"x":-0.010,"y":1.1409},{"c":13,"x":-0.007,"y":1.1388},{"c":13,"x":-0.004,"y":1.1414},{"c":13,"x":-0.001,"y":1.1389},{"c":13,"x":0.002,"y":1.1399},{"c":13,"x":0.005,"y":1.1382},{"c":13,"x":0.008,"y":1.1396},{"c":13,"x":0.011,"y":1.1413},{"c":13,"x":0.014,"y":1.1396},{"c":13,"x":0.017,"y":1.1390},{"c":13,"x":0.020,"y":1.1420},{"c":13,"x":0.023,"y":1.1422},{"c":13,"x":0.026,"y":1.1443},{"c":13,"x":0.029,"y":1.1520},{"c":13,"x":0.032,"y":1.1563},{"c":13,"x":0.035,"y":1.1617},{"c":13,"x":0.038,"y":1.1585},{"c":13,"x":0.041,"y":1.1601},{"c":13,"x":0.044,"y":1.1591},{"c":13,"x":0.047,"y":1.1605},{"c":13,"x":0.050,"y":1.1615},{"c":13,"x":0.053,"y":1.1595},
{"c":14,"x":-0.073,"y":1.1040},{"c":14,"x":-0.070,"y":1.1024},{"c":14,"x":-0.067,"y":1.1017},{"c":14,"x":-0.064,"y":1.1035},{"c":14,"x":-0.061,"y":1.1032},{"c":14,"x":-0.058,"y":1.1022},{"c":14,"x":-0.055,"y":1.1038},{"c":14,"x":-0.052,"y":1.1028},{"c":14,"x":-0.049,"y":1.1042},{"c":14,"x":-0.046,"y":1.1018},{"c":14,"x":-0.043,"y":1.1030},{"c":14,"x":-0.040,"y":1.1018},{"c":14,"x":-0.037,"y":1.0993},{"c":14,"x":-0.034,"y":1.0955},{"c":14,"x":-0.031,"y":1.0894},{"c":14,"x":-0.028,"y":1.0841},{"c":14,"x":-0.025,"y":1.0835},{"c":14,"x":-0.022,"y":1.0816},{"c":14,"x":-0.019,"y":1.0801},{"c":14,"x":-0.016,"y":1.0808},{"c":14,"x":-0.013,"y":1.0811},{"c":14,"x":-0.010,"y":1.0794},{"c":14,"x":-0.007,"y":1.0801},{"c":14,"x":-0.004,"y":1.0779},{"c":14,"x":-0.001,"y":1.0795},{"c":14,"x":0.002,"y":1.0802},{"c":14,"x":0.005,"y":1.0786},{"c":14,"x":0.008,"y":1.0800},{"c":14,"x":0.011,"y":1.0796},{"c":14,"x":0.014,"y":1.0814},{"c":14,"x":0.017,"y":1.0800},{"c":14,"x":0.020,"y":1.0814},{"c":14,"x":0.023,"y":1.0806},{"c":14,"x":0.026,"y":1.0832},{"c":14,"x":0.029,"y":1.0857},{"c":14,"x":0.032,"y":1.0931},{"c":14,"x":0.035,"y":1.0985},{"c":14,"x":0.038,"y":1.1021},{"c":14,"x":0.041,"y":1.1042},{"c":14,"x":0.044,"y":1.1026},{"c":14,"x":0.047,"y":1.1020},{"c":14,"x":0.050,"y":1.1040},{"c":14,"x":0.053,"y":1.1029},{"c":14,"x":0.056,"y":1.1016},{"c":14,"x":0.059,"y":1.1035},{"c":14,"x":0.062,"y":1.1032},{"c":14,"x":0.065,"y":1.1024},{"c":14,"x":0.068,"y":1.1041},{"c":14,"x":0.071,"y":1.1022},
{"c":15,"x":-0.060,"y":1.0515},{"c":15,"x":-0.057,"y":1.0494},{"c":15,"x":-0.054,"y":1.0504},{"c":15,"x":-0.051,"y":1.0514},{"c":15,"x":-0.048,"y":1.0500},{"c":15,"x":-0.045,"y":1.0521},{"c":15,"x":-0.042,"y":1.0503},{"c":15,"x":-0.039,"y":1.0510},{"c":15,"x":-0.036,"y":1.0497},{"c":15,"x":-0.033,"y":1.0471},{"c":15,"x":-0.030,"y":1.0424},{"c":15,"x":-0.027,"y":1.0356},{"c":15,"x":-0.024,"y":1.0311},{"c":15,"x":-0.021,"y":1.0322},{"c":15,"x":-0.018,"y":1.0314},{"c":15,"x":-0.015,"y":1.0299},{"c":15,"x":-0.012,"y":1.0312},{"c":15,"x":-0.009,"y":1.0299},{"c":15,"x":-0.006,"y":1.0313},{"c":15,"x":-0.003,"y":1.0287},{"c":15,"x":0.000,"y":1.0299},{"c":15,"x":0.003,"y":1.0291},{"c":15,"x":0.006,"y":1.0302},{"c":15,"x":0.009,"y":1.0313},{"c":15,"x":0.012,"y":1.0300},{"c":15,"x":0.015,"y":1.0293},{"c":15,"x":0.018,"y":1.0319},{"c":15,"x":0.021,"y":1.0316},{"c":15,"x":0.024,"y":1.0313},{"c":15,"x":0.027,"y":1.0359},{"c":15,"x":0.030,"y":1.0421},{"c":15,"x":0.033,"y":1.0464},{"c":15,"x":0.036,"y":1.0512},{"c":15,"x":0.039,"y":1.0491},{"c":15,"x":0.042,"y":1.0508},{"c":15,"x":0.045,"y":1.0515},{"c":15,"x":0.048,"y":1.0498},{"c":15,"x":0.051,"y":1.0510},{"c":15,"x":0.054,"y":1.0504}
],
"model":[
{"c":1,"x":-0.08,"y":1.7573},{"c":1,"x":-0.0387,"y":1.7573},{"c":1,"x":-0.0344,"y":1.7529},{"c":1,"x":-0.0302,"y":1.7470},{"c":1,"x":-0.0259,"y":1.7415},{"c":1,"x":-0.0216,"y":1.7380},{"c":1,"x":-0.0108,"y":1.7361},{"c":1,"x":0,"y":1.7354},{"c":1,"x":0.0116,"y":1.7361},{"c":1,"x":0.0231,"y":1.7380},{"c":1,"x":0.0265,"y":1.7415},{"c":1,"x":0.0300,"y":1.7470},{"c":1,"x":0.0334,"y":1.7529},{"c":1,"x":0.0368,"y":1.7573},{"c":1,"x":0.08,"y":1.7573},
{"c":2,"x":-0.0477,"y":1.7094},{"c":2,"x":-0.0381,"y":1.7094},{"c":2,"x":-0.0332,"y":1.7047},{"c":2,"x":-0.0283,"y":1.6983},{"c":2,"x":-0.0234,"y":1.6924},{"c":2,"x":-0.0185,"y":1.6886},{"c":2,"x":-0.0093,"y":1.6865},{"c":2,"x":0,"y":1.6858},{"c":2,"x":0.0102,"y":1.6865},{"c":2,"x":0.0203,"y":1.6886},{"c":2,"x":0.0244,"y":1.6924},{"c":2,"x":0.0286,"y":1.6983},{"c":2,"x":0.0327,"y":1.7047},{"c":2,"x":0.0368,"y":1.7094},{"c":2,"x":0.08,"y":1.7094},
{"c":3,"x":-0.0685,"y":1.6606},{"c":3,"x":-0.0391,"y":1.6606},{"c":3,"x":-0.0337,"y":1.6555},{"c":3,"x":-0.0283,"y":1.6487},{"c":3,"x":-0.0228,"y":1.6423},{"c":3,"x":-0.0174,"y":1.6382},{"c":3,"x":-0.0087,"y":1.6360},{"c":3,"x":0,"y":1.6352},{"c":3,"x":0.0092,"y":1.6360},{"c":3,"x":0.0183,"y":1.6382},{"c":3,"x":0.0235,"y":1.6423},{"c":3,"x":0.0287,"y":1.6487},{"c":3,"x":0.0339,"y":1.6555},{"c":3,"x":0.0391,"y":1.6606},{"c":3,"x":0.0577,"y":1.6606},
{"c":4,"x":-0.08,"y":1.6074},{"c":4,"x":-0.0366,"y":1.6074},{"c":4,"x":-0.0321,"y":1.6018},{"c":4,"x":-0.0276,"y":1.5942},{"c":4,"x":-0.0230,"y":1.5872},{"c":4,"x":-0.0185,"y":1.5827},{"c":4,"x":-0.0093,"y":1.5801},{"c":4,"x":0,"y":1.5793},{"c":4,"x":0.0086,"y":1.5801},{"c":4,"x":0.0172,"y":1.5827},{"c":4,"x":0.0216,"y":1.5872},{"c":4,"x":0.0260,"y":1.5942},{"c":4,"x":0.0303,"y":1.6018},{"c":4,"x":0.0347,"y":1.6074},{"c":4,"x":0.08,"y":1.6074},
{"c":5,"x":-0.0785,"y":1.5580},{"c":5,"x":-0.0387,"y":1.5580},{"c":5,"x":-0.0347,"y":1.5539},{"c":5,"x":-0.0307,"y":1.5483},{"c":5,"x":-0.0266,"y":1.5431},{"c":5,"x":-0.0226,"y":1.5398},{"c":5,"x":-0.0113,"y":1.5379},{"c":5,"x":0,"y":1.5373},{"c":5,"x":0.0107,"y":1.5379},{"c":5,"x":0.0214,"y":1.5398},{"c":5,"x":0.0253,"y":1.5431},{"c":5,"x":0.0291,"y":1.5483},{"c":5,"x":0.0330,"y":1.5539},{"c":5,"x":0.0368,"y":1.5580},{"c":5,"x":0.0758,"y":1.5580},
{"c":6,"x":-0.0673,"y":1.5089},{"c":6,"x":-0.0379,"y":1.5089},{"c":6,"x":-0.0340,"y":1.5049},{"c":6,"x":-0.0301,"y":1.4995},{"c":6,"x":-0.0261,"y":1.4944},{"c":6,"x":-0.0222,"y":1.4912},{"c":6,"x":-0.0111,"y":1.4894},{"c":6,"x":0,"y":1.4888},{"c":6,"x":0.0110,"y":1.4894},{"c":6,"x":0.0220,"y":1.4912},{"c":6,"x":0.0259,"y":1.4944},{"c":6,"x":0.0299,"y":1.4995},{"c":6,"x":0.0338,"y":1.5049},{"c":6,"x":0.0377,"y":1.5089},{"c":6,"x":0.0537,"y":1.5089},
{"c":7,"x":-0.0625,"y":1.4604},{"c":7,"x":-0.0356,"y":1.4604},{"c":7,"x":-0.0317,"y":1.4559},{"c":7,"x":-0.0278,"y":1.4498},{"c":7,"x":-0.0238,"y":1.4442},{"c":7,"x":-0.0199,"y":1.4406},{"c":7,"x":-0.0100,"y":1.4386},{"c":7,"x":0,"y":1.4379},{"c":7,"x":0.0117,"y":1.4386},{"c":7,"x":0.0233,"y":1.4406},{"c":7,"x":0.0263,"y":1.4442},{"c":7,"x":0.0293,"y":1.4498},{"c":7,"x":0.0322,"y":1.4559},{"c":7,"x":0.0352,"y":1.4604},{"c":7,"x":0.0612,"y":1.4604},
{"c":8,"x":-0.08,"y":1.4063},{"c":8,"x":-0.0418,"y":1.4063},{"c":8,"x":-0.0362,"y":1.4021},{"c":8,"x":-0.0307,"y":1.3965},{"c":8,"x":-0.0251,"y":1.3913},{"c":8,"x":-0.0195,"y":1.3880},{"c":8,"x":-0.0098,"y":1.3861},{"c":8,"x":0,"y":1.3855},{"c":8,"x":0.0100,"y":1.3861},{"c":8,"x":0.0199,"y":1.3880},{"c":8,"x":0.0243,"y":1.3913},{"c":8,"x":0.0287,"y":1.3965},{"c":8,"x":0.0330,"y":1.4021},{"c":8,"x":0.0374,"y":1.4063},{"c":8,"x":0.08,"y":1.4063},
{"c":9,"x":-0.0696,"y":1.3587},{"c":9,"x":-0.0381,"y":1.3587},{"c":9,"x":-0.0359,"y":1.3551},{"c":9,"x":-0.0336,"y":1.3503},{"c":9,"x":-0.0314,"y":1.3458},{"c":9,"x":-0.0291,"y":1.3429},{"c":9,"x":-0.0146,"y":1.3413},{"c":9,"x":0,"y":1.3408},{"c":9,"x":0.0139,"y":1.3413},{"c":9,"x":0.0278,"y":1.3429},{"c":9,"x":0.0301,"y":1.3458},{"c":9,"x":0.0323,"y":1.3503},{"c":9,"x":0.0346,"y":1.3551},{"c":9,"x":0.0368,"y":1.3587},{"c":9,"x":0.0560,"y":1.3587},
{"c":10,"x":-0.08,"y":1.3055},{"c":10,"x":-0.0381,"y":1.3055},{"c":10,"x":-0.0342,"y":1.3011},{"c":10,"x":-0.0304,"y":1.2951},{"c":10,"x":-0.0265,"y":1.2896},{"c":10,"x":-0.0226,"y":1.2861},{"c":10,"x":-0.0113,"y":1.2841},{"c":10,"x":0,"y":1.2834},{"c":10,"x":0.0083,"y":1.2841},{"c":10,"x":0.0166,"y":1.2861},{"c":10,"x":0.0217,"y":1.2896},{"c":10,"x":0.0267,"y":1.2951},{"c":10,"x":0.0318,"y":1.3011},{"c":10,"x":0.0368,"y":1.3055},{"c":10,"x":0.0629,"y":1.3055},
{"c":11,"x":-0.0648,"y":1.2604},{"c":11,"x":-0.0366,"y":1.2604},{"c":11,"x":-0.0326,"y":1.2558},{"c":11,"x":-0.0286,"y":1.2497},{"c":11,"x":-0.0245,"y":1.2440},{"c":11,"x":-0.0205,"y":1.2403},{"c":11,"x":-0.0103,"y":1.2383},{"c":11,"x":0,"y":1.2376},{"c":11,"x":0.0121,"y":1.2383},{"c":11,"x":0.0241,"y":1.2403},{"c":11,"x":0.0265,"y":1.2440},{"c":11,"x":0.0289,"y":1.2497},{"c":11,"x":0.0313,"y":1.2558},{"c":11,"x":0.0337,"y":1.2604},{"c":11,"x":0.0566,"y":1.2604},
{"c":12,"x":-0.0775,"y":1.2080},{"c":12,"x":-0.0397,"y":1.2080},{"c":12,"x":-0.0352,"y":1.2035},{"c":12,"x":-0.0307,"y":1.1974},{"c":12,"x":-0.0261,"y":1.1918},{"c":12,"x":-0.0216,"y":1.1882},{"c":12,"x":-0.0108,"y":1.1862},{"c":12,"x":0,"y":1.1855},{"c":12,"x":0.0100,"y":1.1862},{"c":12,"x":0.0199,"y":1.1882},{"c":12,"x":0.0245,"y":1.1918},{"c":12,"x":0.0290,"y":1.1974},{"c":12,"x":0.0336,"y":1.2035},{"c":12,"x":0.0381,"y":1.2080},{"c":12,"x":0.0733,"y":1.2080},
{"c":13,"x":-0.0610,"y":1.1599},{"c":13,"x":-0.0366,"y":1.1599},{"c":13,"x":-0.0326,"y":1.1558},{"c":13,"x":-0.0286,"y":1.1502},{"c":13,"x":-0.0245,"y":1.1451},{"c":13,"x":-0.0205,"y":1.1418},{"c":13,"x":-0.0103,"y":1.1399},{"c":13,"x":0,"y":1.1393},{"c":13,"x":0.0116,"y":1.1399},{"c":13,"x":0.0231,"y":1.1418},{"c":13,"x":0.0259,"y":1.1451},{"c":13,"x":0.0287,"y":1.1502},{"c":13,"x":0.0315,"y":1.1558},{"c":13,"x":0.0343,"y":1.1599},{"c":13,"x":0.0556,"y":1.1599},
{"c":14,"x":-0.0731,"y":1.1029},{"c":14,"x":-0.0404,"y":1.1029},{"c":14,"x":-0.0364,"y":1.0982},{"c":14,"x":-0.0325,"y":1.0918},{"c":14,"x":-0.0285,"y":1.0859},{"c":14,"x":-0.0245,"y":1.0821},{"c":14,"x":-0.0123,"y":1.0800},{"c":14,"x":0,"y":1.0793},{"c":14,"x":0.0127,"y":1.0800},{"c":14,"x":0.0254,"y":1.0821},{"c":14,"x":0.0286,"y":1.0859},{"c":14,"x":0.0318,"y":1.0918},{"c":14,"x":0.0349,"y":1.0982},{"c":14,"x":0.0381,"y":1.1029},{"c":14,"x":0.0710,"y":1.1029},
{"c":15,"x":-0.0608,"y":1.0506},{"c":15,"x":-0.0354,"y":1.0506},{"c":15,"x":-0.0325,"y":1.0464},{"c":15,"x":-0.0297,"y":1.0408},{"c":15,"x":-0.0268,"y":1.0356},{"c":15,"x":-0.0239,"y":1.0322},{"c":15,"x":-0.0120,"y":1.0303},{"c":15,"x":0,"y":1.0297},{"c":15,"x":0.0121,"y":1.0303},{"c":15,"x":0.0241,"y":1.0322},{"c":15,"x":0.0270,"y":1.0356},{"c":15,"x":0.0299,"y":1.0408},{"c":15,"x":0.0327,"y":1.0464},{"c":15,"x":0.0356,"y":1.0506},{"c":15,"x":0.0539,"y":1.0506}
],
"labels":[
{"x":0.0393,"y":1.7778,"t":"2015-08-31 Meade 16ACF OTA, 0.406m"},
{"x":0.0396,"y":1.7322,"t":"2016-03-19\u00a0 Meade 16ACF OTA, 0.406m"},
{"x":0.0396,"y":1.6898,"t":"2016-03-21\u00a0 Meade 16ACF OTA, 0.406m"},
{"x":0.0393,"y":1.6323,"t":"2016-03-27\u00a0 Meade 16ACF OTA, 0.406m"},
{"x":0.0396,"y":1.5807,"t":"2016-04-02\u00a0 Meade 16ACF OTA, 0.406m"},
{"x":0.0393,"y":1.5346,"t":"2016-06-10 Ritchey-Chretien system, 0.82m"},
{"x":0.0393,"y":1.4857,"t":"2016-06-26 PlaneWave CDK700, 0.7m"},
{"x":0.0393,"y":1.4341,"t":"2016-07-25 Meade 8\u2033 LX200GPSR, 0.203m"},
{"x":0.0393,"y":1.3809,"t":"2016-07-28 Cassegrain system, 0.43m"},
{"x":0.0393,"y":1.3337,"t":"2016-07-31 Meade 14\u2033 LX200R, 0.35m"},
{"x":0.0393,"y":1.2799,"t":"2016-08-14 PlaneWave CDK700, 0.7m"},
{"x":0.0393,"y":1.2294,"t":"2016-10-28 Celestron C11EdgeHD, 0.28m"},
{"x":0.0393,"y":1.1762,"t":"2016-10-31 Ritchey-Chretien system, 0.82m"},
{"x":0.0393,"y":1.1258,"t":"2016-12-13 Ritchey-Chretien system, 0.82m"},
{"x":0.0393,"y":1.0726,"t":"2017-05-16 Ritchey-Chretien system, 0.82m"}
]
},
"layer":[
{"data":{"name":"dots"},
"mark":{"type":"point","filled":true,"color":"black","opacity":1,"size":40},
"encoding":{
"x":{"field":"x","type":"quantitative","scale":{"domain":[-0.08,0.08],"nice":false,"zero":false},
"axis":{"values":[-0.08,-0.06,-0.04,-0.02,0,0.02,0.04,0.06,0.08],
"labelExpr":"abs(datum.value*25 - round(datum.value*25)) < 0.001 ? (datum.value < -0.0001 ? '-' : '') + format(abs(datum.value), '.2f') : ''",
"tickSize":{"condition":{"test":"abs(datum.value*25 - round(datum.value*25)) < 0.001","value":18},"value":10},
"labelPadding":13,"title":"Phase","titleFontSize":43,"titlePadding":-6}},
"y":{"field":"y","type":"quantitative","scale":{"domain":[1.0,1.775],"nice":false,"zero":false},
"axis":{"values":[1.0,1.05,1.1,1.15,1.2,1.25,1.3,1.35,1.4,1.45,1.5,1.55,1.6,1.65,1.7,1.75],
"labelExpr":"abs(datum.value*10 - round(datum.value*10)) < 0.001 ? format(datum.value, '.1f') : ''",
"tickSize":{"condition":{"test":"abs(datum.value*10 - round(datum.value*10)) < 0.001","value":15},"value":7},
"labelPadding":12,"title":"Normalized Flux","titleFontSize":46,"titlePadding":4}}}},
{"data":{"name":"model"},
"mark":{"type":"line","color":"#ff0000","strokeWidth":2.8,"interpolate":"monotone"},
"encoding":{"x":{"field":"x","type":"quantitative"},"y":{"field":"y","type":"quantitative"},"detail":{"field":"c","type":"nominal"}}},
{"data":{"name":"labels"},
"mark":{"type":"text","align":"left","baseline":"middle","font":"Liberation Serif","fontSize":30.5,"color":"black"},
"encoding":{"x":{"field":"x","type":"quantitative"},"y":{"field":"y","type":"quantitative"},"text":{"field":"t"}}}
]
}
